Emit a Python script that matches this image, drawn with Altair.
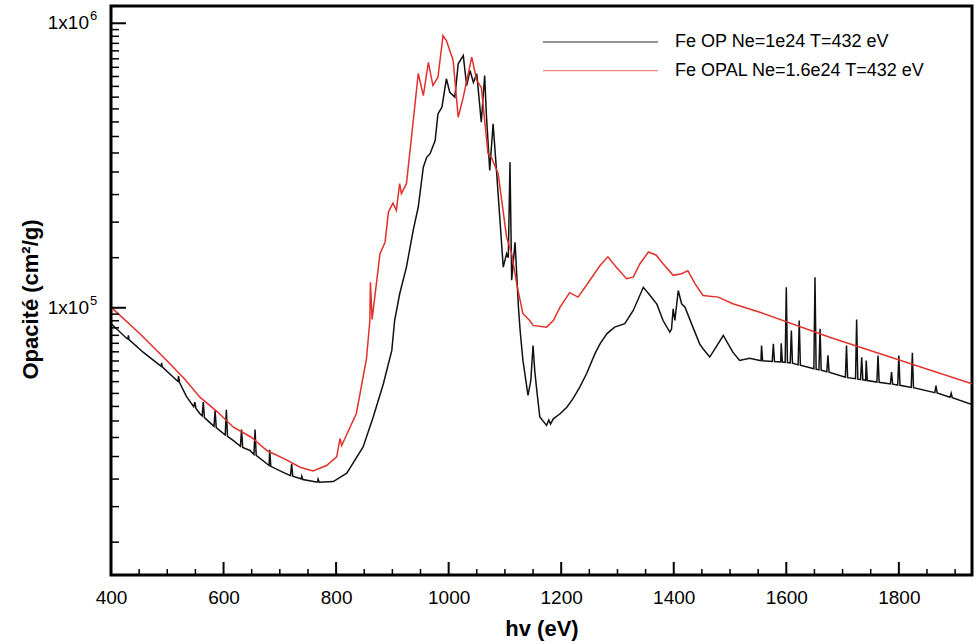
import altair as alt
import pandas as pd

# ---------------- data ----------------
op_energy = [400, 428, 430, 431, 432, 457, 487, 489, 490, 491, 517, 519, 520, 522, 534,
             547, 549, 551, 558, 562, 564, 566, 583, 585, 587, 603, 605, 607, 617, 630,
             632, 634, 647, 654, 656, 658, 677, 681, 682, 684, 706, 719, 721, 723, 736,
             738, 739, 741, 765, 767, 768, 770, 795, 819, 848, 866, 884, 899, 904, 913,
             925, 937, 946, 955, 961, 967, 976, 981, 988, 996, 1002, 1011, 1017, 1026, 1032,
             1038, 1044, 1050, 1058, 1064, 1067, 1073, 1079, 1085, 1097, 1103, 1106, 1109, 1112, 1118,
             1124, 1127, 1132, 1141, 1146, 1150, 1153, 1156, 1162, 1174, 1178, 1181, 1186, 1198, 1210,
             1221, 1233, 1245, 1260, 1269, 1281, 1295, 1313, 1328, 1346, 1358, 1370, 1381, 1393, 1396,
             1399, 1402, 1408, 1414, 1420, 1434, 1446, 1452, 1464, 1488, 1505, 1517, 1535, 1553, 1555,
             1556, 1558, 1575, 1577, 1579, 1590, 1591, 1593, 1598, 1600, 1602, 1607, 1609, 1611, 1621,
             1623, 1625, 1649, 1651, 1653, 1658, 1660, 1662, 1672, 1674, 1676, 1705, 1707, 1709, 1723,
             1725, 1727, 1732, 1734, 1736, 1741, 1742, 1744, 1761, 1763, 1765, 1785, 1787, 1789, 1798,
             1800, 1802, 1822, 1824, 1826, 1864, 1866, 1868, 1891, 1893, 1895, 1930]
op_opacity = [88000, 78000, 77700, 80000, 77300, 69800, 62700, 62300, 64000, 62000, 55500, 55100, 57500, 54500, 48800,
              44900, 46600, 44300, 42400, 41700, 46600, 41100, 38300, 43600, 37900, 35700, 43800, 35300, 34200, 32600,
              37300, 32300, 31500, 30500, 37300, 30300, 28300, 27900, 31700, 27700, 26400, 25700, 28300, 25600, 25100,
              25000, 25600, 24900, 24400, 24400, 25000, 24350, 24500, 26200, 32400, 41300, 54100, 70800, 90200, 112000,
              139000, 187000, 226000, 312000, 338000, 348000, 387000, 480000, 507000, 638000, 572000, 550000, 720000, 770000, 604000,
              682000, 620000, 664000, 449000, 655000, 480000, 304000, 443000, 304000, 139000, 155000, 150000, 325000, 125000, 170000,
              100500, 83200, 65300, 49200, 55500, 73700, 60000, 52600, 41300, 38600, 40300, 39000, 40700, 42400, 44700,
              47900, 52600, 58600, 69000, 74700, 81000, 85500, 87900, 97800, 118000, 110500, 103000, 90200, 82100, 84000,
              99200, 90200, 115000, 103300, 100500, 85500, 74700, 71800, 67100, 79900, 69800, 65300, 66500, 65300, 65200,
              73700, 65100, 64800, 74700, 64700, 64500, 75000, 64400, 64300, 118000, 64200, 64000, 83200, 63800, 63000,
              90200, 62800, 61000, 128000, 60800, 60500, 84400, 60300, 59600, 68000, 59400, 57000, 73700, 56800, 56300,
              91000, 56100, 55900, 67000, 55800, 55600, 65300, 55500, 54800, 68000, 54700, 54000, 59400, 53900, 53500,
              68000, 53400, 52500, 69500, 52400, 50300, 53300, 50200, 48500, 50100, 48300, 45700]

opal_energy = [400, 450, 499, 530, 558, 590, 617, 650, 677, 710, 736, 759, 783, 801, 807,
               810, 825, 836, 854, 860, 861, 864, 878, 887, 893, 901, 907, 913, 916, 925,
               934, 946, 955, 964, 972, 981, 990, 996, 1008, 1017, 1026, 1041, 1050, 1058, 1070,
               1076, 1088, 1103, 1112, 1121, 1132, 1144, 1150, 1174, 1186, 1198, 1215, 1230, 1251, 1269,
               1283, 1298, 1316, 1328, 1340, 1355, 1369, 1381, 1399, 1414, 1425, 1438, 1452, 1479, 1505,
               1553, 1677, 1930]
opal_opacity = [100500, 81500, 65300, 56400, 48500, 42900, 38100, 35000, 31500, 29300, 27500, 26700, 27900, 29900, 34700,
                32800, 38100, 42500, 66200, 90200, 123000, 91000, 155000, 170000, 217000, 233000, 220000, 273000, 252000, 273000,
                398000, 666000, 557000, 729000, 604000, 646000, 905000, 870000, 740000, 467000, 550000, 760000, 629000, 596000, 348000,
                338000, 296000, 177000, 155000, 121000, 95300, 90200, 86700, 85500, 90200, 100500, 113000, 109000, 125000, 140800,
                151000, 138900, 126500, 128100, 142800, 157000, 153000, 142800, 130000, 131700, 135000, 121400, 110500, 109000, 103300,
                96500, 78800, 54100]

series_names = ["Fe OP Ne=1e24 T=432 eV", "Fe OPAL Ne=1.6e24 T=432 eV"]
series_colors = ["#111111", "#e2302c"]

x_major = [400, 600, 800, 1000, 1200, 1400, 1600, 1800]
x_minor = [450, 500, 550, 650, 700, 750, 850, 900, 950, 1050, 1100, 1150, 1250, 1300, 1350,
           1450, 1500, 1550, 1650, 1700, 1750, 1850, 1900]
y_major = [100000, 1000000]
y_major_base = ["1x10", "1x10"]
y_major_exp = ["5", "6"]
y_minor = [15000, 20000, 25000, 30000, 35000, 40000, 45000, 50000, 55000, 60000, 65000, 70000,
           75000, 80000, 85000, 90000, 95000,
           150000, 200000, 250000, 300000, 350000, 400000, 450000, 500000, 550000, 600000, 650000,
           700000, 750000, 800000, 850000, 900000, 950000]

# ---------------- chart ----------------
W, H = 861, 569
FONT = "Liberation Sans"

x_scale = alt.Scale(domain=[400, 1930], nice=False, zero=False)
y_scale = alt.Scale(type="log", domain=[11500, 1150000], nice=False)

op_df = pd.DataFrame({"E": op_energy, "K": op_opacity})
opal_df = pd.DataFrame({"E": opal_energy, "K": opal_opacity})
ylab_df = pd.DataFrame({"t": y_major, "b": y_major_base, "e": y_major_exp})

x_axis = alt.Axis(values=x_major, format="d", title="hv (eV)", ticks=False, domain=False,
                  grid=False, labelFontSize=19, labelPadding=13, labelFont=FONT, labelFlush=False,
                  labelColor="black", titleFont=FONT, titleFontSize=22, titleFontWeight="bold",
                  titleColor="black", titleBaseline="alphabetic", titleY=60)
y_axis = alt.Axis(values=y_major, title="Opacité (cm²/g)", ticks=False, domain=False, grid=False,
                  labels=False,
                  titleFont=FONT, titleFontSize=22, titleFontWeight="bold", titleColor="black",
                  titleAngle=-90, titleBaseline="alphabetic", titleX=-74, titleY=293,
                  titleAlign="center")

op_line = alt.Chart(op_df).mark_line(color=series_colors[0], strokeWidth=1.5, clip=True).encode(
    x=alt.X("E:Q", scale=x_scale, axis=x_axis),
    y=alt.Y("K:Q", scale=y_scale, axis=y_axis),
    order="E:Q",
)
opal_line = alt.Chart(opal_df).mark_line(color=series_colors[1], strokeWidth=1.5, clip=True).encode(
    x=alt.X("E:Q", scale=x_scale, axis=x_axis),
    y=alt.Y("K:Q", scale=y_scale, axis=y_axis),
    order="E:Q",
)

def xticks(vals, length, sw):
    return alt.Chart(pd.DataFrame({"t": vals})).mark_rule(color="black", strokeWidth=sw).encode(
        x=alt.X("t:Q", scale=x_scale, axis=x_axis),
        y=alt.value(H), y2=alt.value(H - length))

def yticks(vals, length, sw):
    return alt.Chart(pd.DataFrame({"t": vals})).mark_rule(color="black", strokeWidth=sw).encode(
        y=alt.Y("t:Q", scale=y_scale, axis=y_axis),
        x=alt.value(0), x2=alt.value(length))

# y tick labels "1x10" with a raised exponent
ylab_base = alt.Chart(ylab_df).mark_text(
    align="right", baseline="middle", font=FONT, fontSize=19, color="black").encode(
    y=alt.Y("t:Q", scale=y_scale, axis=y_axis), x=alt.value(-22), text="b:N")
ylab_exp = alt.Chart(ylab_df).mark_text(
    align="left", baseline="middle", font=FONT, fontSize=13, color="black", dy=-7).encode(
    y=alt.Y("t:Q", scale=y_scale, axis=y_axis), x=alt.value(-21), text="e:N")

# legend (inside the plot, top right)
leg_rows = [36, 64.7]
legend_layers = []
for name, col, yy in zip(series_names, series_colors, leg_rows):
    legend_layers.append(
        alt.Chart(pd.DataFrame({"n": [name]})).mark_rule(color=col, strokeWidth=1.3, opacity=0.6).encode(
            x=alt.value(432), x2=alt.value(547), y=alt.value(yy)))
    legend_layers.append(
        alt.Chart(pd.DataFrame({"n": [name]})).mark_text(
            align="left", baseline="middle", font=FONT, fontSize=18, color="black").encode(
            x=alt.value(564), y=alt.value(yy), text="n:N"))

chart = alt.layer(
    op_line, opal_line,
    xticks(x_major, 13, 2), xticks(x_minor, 6, 1.5),
    yticks(y_major, 15, 2), yticks(y_minor, 8, 1.5),
    ylab_base, ylab_exp,
    *legend_layers,
).properties(
    width=W, height=H,
    autosize=alt.AutoSizeParams(type="none"),
    padding={"left": 111, "top": 6, "right": 6, "bottom": 69},
    background="white",
).configure_view(stroke="black", strokeWidth=3)

chart.save("out.html", embed_options={"renderer": "svg", "actions": False})
